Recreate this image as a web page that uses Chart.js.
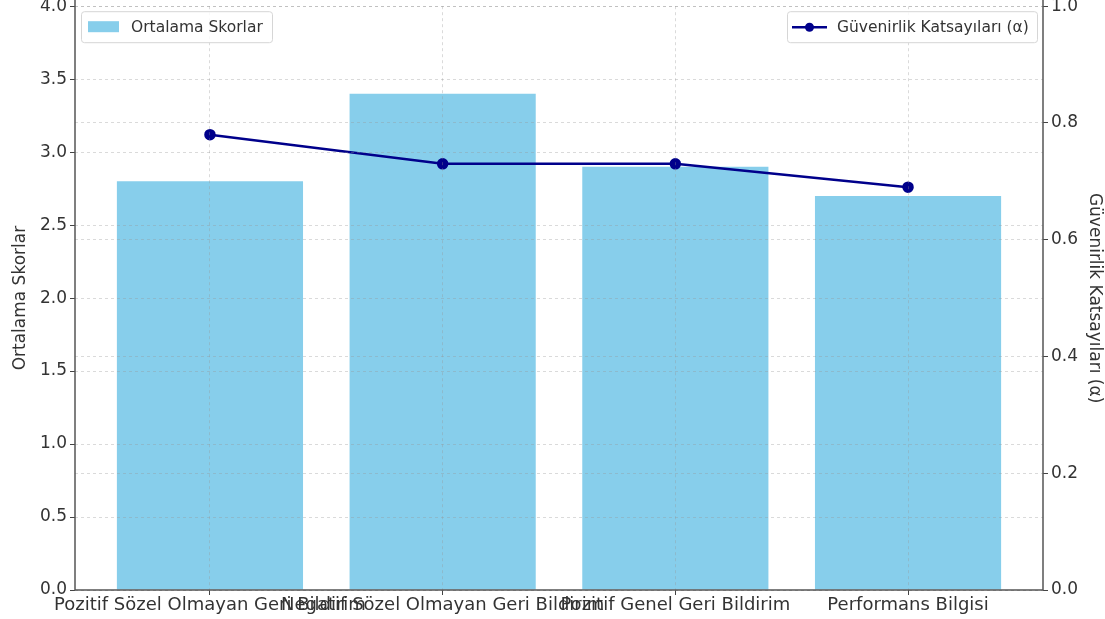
<!DOCTYPE html>
<html>
<head>
<meta charset="utf-8">
<script src="https://cdn.jsdelivr.net/npm/chart.js@4/dist/chart.umd.min.js"></script>
<style>
  html, body { margin: 0; padding: 0; background: #fff; overflow: hidden; }
  #wrap { width: 1105px; height: 626px; margin-top: -7px; }
</style>
</head>
<body>
<div id="wrap"><canvas id="myChart"></canvas></div>
<script>
const categories = [
  "Pozitif Sözel Olmayan Geri Bildirim",
  "Negatif Sözel Olmayan Geri Bildirim",
  "Pozitif Genel Geri Bildirim",
  "Performans Bilgisi",
];
const ortalamaSkorlar = [2.8, 3.4, 2.9, 2.7];
const guvenirlik = [0.78, 0.73, 0.73, 0.69];
const leftTicks = [0, 0.5, 1, 1.5, 2, 2.5, 3, 3.5, 4];
const rightTicks = [0, 0.2, 0.4, 0.6, 0.8, 1];

const font = "'DejaVu Sans', sans-serif";
const gridColor = "rgba(150,150,150,0.35)";

// axis spines + two separate legend boxes, like matplotlib's twin axes
const extras = {
  id: "extras",
  afterDraw(chart) {
    const c = chart.ctx;
    const area = chart.chartArea;
    const top = area.top + 5;
    c.save();

    c.strokeStyle = "#555";
    c.lineWidth = 1.5;
    c.beginPath();
    c.moveTo(area.left, area.top - 10);
    c.lineTo(area.left, area.bottom);
    c.lineTo(area.right, area.bottom);
    c.lineTo(area.right, area.top - 10);
    c.stroke();

    c.font = "15.5px " + font;
    c.textBaseline = "middle";

    function box(x, y, w, label, kind) {
      c.fillStyle = "rgba(255,255,255,0.85)";
      c.strokeStyle = "#d6d6d6";
      c.lineWidth = 1;
      c.beginPath();
      c.roundRect(x + 0.5, y + 0.5, w, 31, 3);
      c.fill();
      c.stroke();
      if (kind === "bar") {
        c.fillStyle = "#87CEEB";
        c.fillRect(x + 7, y + 10, 31, 11);
      } else {
        c.strokeStyle = "#00008B";
        c.lineWidth = 2.5;
        c.beginPath();
        c.moveTo(x + 5, y + 16);
        c.lineTo(x + 40, y + 16);
        c.stroke();
        c.fillStyle = "#00008B";
        c.beginPath();
        c.arc(x + 22.5, y + 16, 4.5, 0, Math.PI * 2);
        c.fill();
      }
      c.fillStyle = "#333";
      c.fillText(label, x + 50, y + 16.5);
    }

    box(area.left + 6, top, 191, chart.data.datasets[0].label, "bar");
    box(area.right - 256, top, 250, chart.data.datasets[1].label, "line");
    c.restore();
  },
};

const ctx = document.getElementById("myChart");

new Chart(ctx, {
  type: "bar",
  data: {
    datasets: [
      {
        label: "Ortalama Skorlar",
        data: ortalamaSkorlar.map((v, i) => ({ x: i, y: v })),
        backgroundColor: "#87CEEB",
        borderWidth: 0,
        barPercentage: 0.8,
        categoryPercentage: 1,
        yAxisID: "y",
        order: 2,
      },
      {
        type: "line",
        label: "Güvenirlik Katsayıları (α)",
        data: guvenirlik.map((v, i) => ({ x: i, y: v })),
        borderColor: "#00008B",
        backgroundColor: "#00008B",
        borderWidth: 2.5,
        pointRadius: 4.5,
        pointHoverRadius: 4.5,
        yAxisID: "y1",
        order: 1,
      },
    ],
  },
  options: {
    responsive: true,
    maintainAspectRatio: false,
    animation: false,
    plugins: {
      legend: { display: false },
      tooltip: { enabled: false },
    },
    scales: {
      x: {
        type: "linear",
        min: -0.58,
        max: 3.58,
        offset: false,
        afterBuildTicks: (s) => {
          s.ticks = categories.map((_, i) => ({ value: i }));
        },
        afterFit: (s) => { s.height = 29; },
        ticks: {
          autoSkip: false,
          maxRotation: 0,
          padding: 0,
          color: "#333",
          font: { family: font, size: 18 },
          callback: (v) => categories[v] ?? "",
        },
        grid: {
          z: 1,
          offset: false,
          color: gridColor,
          tickColor: "#444",
          tickLength: 5,
        },
        border: { display: false, dash: [3, 3] },
      },
      y: {
        position: "left",
        min: 0,
        max: 4,
        afterBuildTicks: (s) => {
          s.ticks = leftTicks.map((v) => ({ value: v }));
        },
        afterFit: (s) => { s.width = 75; },
        title: {
          display: true,
          text: "Ortalama Skorlar",
          color: "#333",
          font: { family: font, size: 17 },
          padding: { top: 10, bottom: 2 },
        },
        ticks: {
          color: "#333",
          font: { family: font, size: 17 },
          padding: 3,
          callback: (v) => v.toFixed(1),
        },
        grid: { z: 1, color: gridColor, tickColor: "#444", tickLength: 5 },
        border: { display: false, dash: [3, 3] },
      },
      y1: {
        position: "right",
        min: 0,
        max: 1,
        afterBuildTicks: (s) => {
          s.ticks = rightTicks.map((v) => ({ value: v }));
        },
        afterFit: (s) => { s.width = 62; },
        title: {
          display: true,
          text: "Güvenirlik Katsayıları (α)",
          color: "#333",
          font: { family: font, size: 17 },
          padding: { top: 0, bottom: 0 },
        },
        ticks: {
          color: "#333",
          font: { family: font, size: 17 },
          padding: 3,
          callback: (v) => v.toFixed(1),
        },
        grid: { z: 1, color: gridColor, tickColor: "#444", tickLength: 5 },
        border: { display: false, dash: [3, 3] },
      },
    },
  },
  plugins: [extras],
});
</script>
</body>
</html>
